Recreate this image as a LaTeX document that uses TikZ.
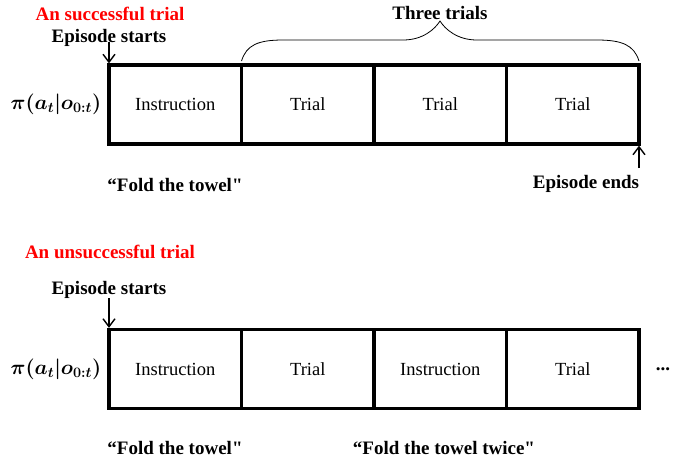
\documentclass[tikz,border=0pt]{standalone}
\usepackage{fontspec}
\setmainfont{Liberation Serif}
\usetikzlibrary{arrows.meta}
\newcommand{\sq}{\textquotedbl}
\tikzset{
  seg/.style={draw, line width=3.2pt, minimum width=132.5pt, minimum height=79pt, inner sep=0pt, outer sep=0pt, font=\fontsize{18.5}{20}\selectfont},
  lbl/.style={inner sep=0pt, font=\fontsize{19}{21}\selectfont\bfseries},
  ttl/.style={inner sep=0pt, text=red, font=\fontsize{19}{21}\selectfont\bfseries},
  pol/.style={inner sep=0pt, font=\fontsize{21}{23}\selectfont\boldmath},
  marker/.style={-{Straight Barb[length=8pt,width=12pt,line width=1.4pt]}, line width=1.4pt, shorten >=1.6pt},
}
\begin{document}
\begin{tikzpicture}[x=1pt,y=-1pt]
\useasboundingbox (0,0) rectangle (688,464);
% top row
\node[ttl] (t1) at (110,14) {An successful trial};
\node[lbl] (es1) at (109,38) {Episode starts};
\node[lbl] (three) at (440,13) {Three trials};
\node[pol] (p1) at (56,104.5) {$\pi(a_t|o_{0:t})$};
\node[seg] (a1) at (175.25,104.5) {Instruction};
\node[seg] (a2) at (307.75,104.5) {Trial};
\node[seg] (a3) at (440.25,104.5) {Trial};
\node[seg] (a4) at (572.75,104.5) {Trial};
\node[lbl] (f1) at (175,185) {``Fold the towel\sq};
\node[lbl] (ee) at (586,184) {Episode ends};
\coordinate (s1) at (109,42);
\coordinate (e1) at (639,168);
\draw[marker] (s1) -- (a1.north west);
\draw[marker] (e1) -- (a4.south east);
\coordinate (bl) at (241.5,61);
\coordinate (br) at (639,61);
\coordinate (btip) at (440,21);
\draw[line width=0.8pt] (bl)
  .. controls +(5,-16) and +(-25,0) .. (283,40) -- (403,40)
  .. controls +(20,0) and +(-5,8) .. (btip)
  .. controls +(5,8) and +(-20,0) .. (477,40) -- (597,40)
  .. controls +(25,0) and +(-5,-16) .. (br);
% bottom row
\node[ttl] (t2) at (110,252) {An unsuccessful trial};
\node[lbl] (es2) at (109,290) {Episode starts};
\node[pol] (p2) at (56,369) {$\pi(a_t|o_{0:t})$};
\node[seg] (b1) at (175.25,369) {Instruction};
\node[seg] (b2) at (307.75,369) {Trial};
\node[seg] (b3) at (440.25,369) {Instruction};
\node[seg] (b4) at (572.75,369) {Trial};
\node[lbl] (dots) at (663,369) {...};
\node[lbl] (f2) at (175,448) {``Fold the towel\sq};
\node[lbl] (f3) at (444,448) {``Fold the towel twice\sq};
\coordinate (s2) at (109,298);
\draw[marker] (s2) -- (b1.north west);
\end{tikzpicture}
\end{document}
